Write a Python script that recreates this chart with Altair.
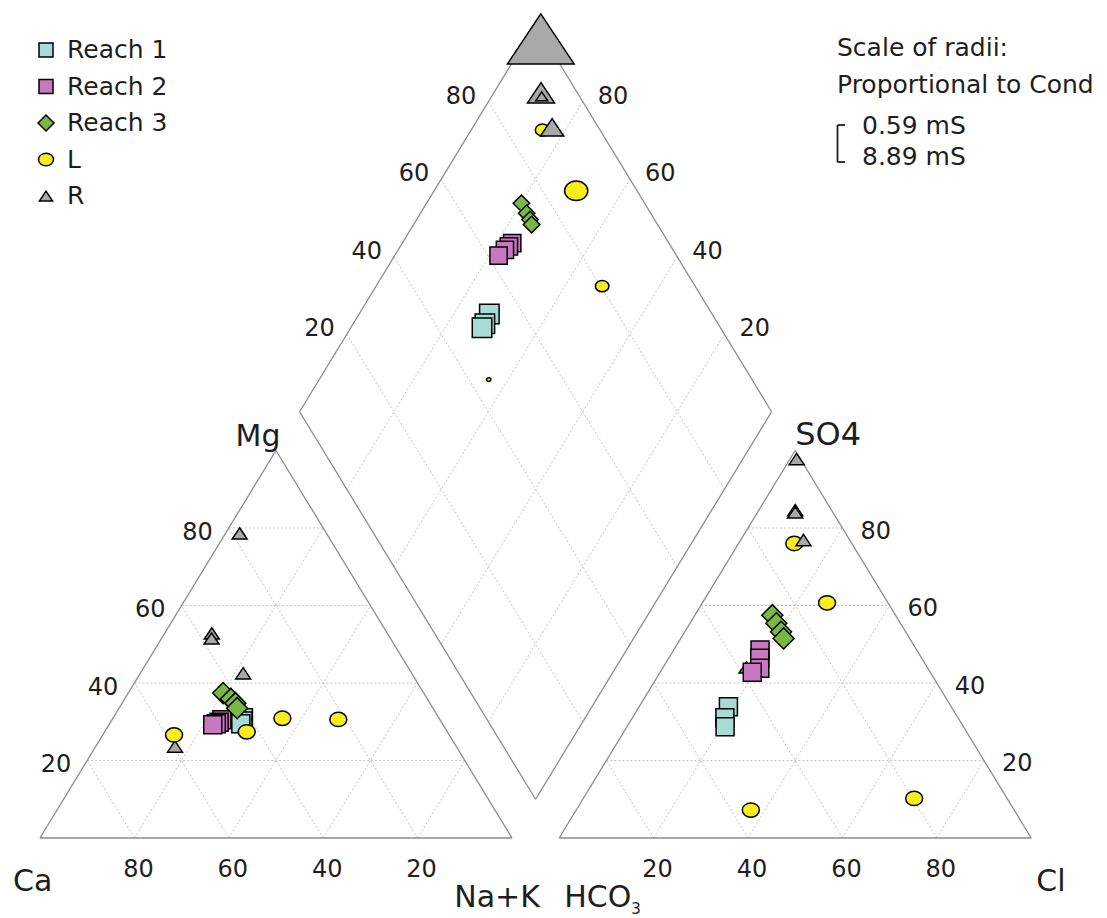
import math
import altair as alt
import pandas as pd

# ---------------- data (percent of meq/L) ----------------
groups = ["Reach 1", "Reach 2", "Reach 3", "L", "R"]

reach1_mg = [31.0, 30.2, 29.5]
reach1_nak = [27.6, 27.9, 27.8]
reach1_so4 = [33.9, 31.0, 28.7]
reach1_cl = [18.9, 19.6, 20.8]
reach1_cond = [2.6, 2.6, 2.6]

reach2_mg = [30.5, 29.9, 29.5, 29.2]
reach2_nak = [23.3, 23.0, 22.6, 22.0]
reach2_so4 = [48.5, 46.4, 43.8, 42.8]
reach2_cl = [18.3, 19.3, 20.6, 19.5]
reach2_cond = [2.3, 2.3, 2.3, 2.3]

reach3_mg = [37.4, 35.9, 34.8, 33.5]
reach3_nak = [20.1, 22.5, 24.0, 25.0]
reach3_so4 = [57.5, 55.4, 53.2, 51.5]
reach3_cl = [16.4, 18.3, 20.4, 21.8]
reach3_cond = [2.2, 2.2, 2.2, 2.2]

l_mg = [26.6, 27.4, 30.9, 30.6]
l_nak = [15.1, 30.1, 35.9, 47.9]
l_so4 = [76.0, 60.7, 7.2, 10.2]
l_cl = [11.8, 26.4, 37.0, 70.1]
l_cond = [1.9, 3.1, 0.59, 1.8]

r_mg = [78.6, 52.8, 23.6, 42.5, 51.5]
r_nak = [3.0, 10.0, 16.8, 21.8, 10.6]
r_so4 = [97.8, 84.6, 76.9, 44.0, 84.0]
r_cl = [1.4, 7.7, 13.3, 17.7, 8.0]
r_cond = [8.89, 3.6, 3.1, 1.5, 1.6]

ticks = [20, 40, 60, 80]
tick_labels = ["20", "40", "60", "80"]

fills = ["#a9dbd6", "#c878c0", "#78b843", "#fbec1e", "#a9a9a9"]
TRI_PATH = "M0,-0.75L1,0.75L-1,0.75Z"
ELL_PATH = "M-1,0A1,0.84 0 1,1 1,0A1,0.84 0 1,1 -1,0Z"
shapes = ["square", "square", "diamond", ELL_PATH, TRI_PATH]
tri_px = {"Reach 1": 18, "Reach 2": 18, "Reach 3": 21, "L": 17, "R": 15}
legend_px = [14, 14, 16, 15, 13]

FONT = "DejaVu Sans"
TXT = "#1e1e1e"
H = math.sqrt(3) / 2
GAP = 10

# ---------------- geometry ----------------
series = {
    "Reach 1": (reach1_mg, reach1_nak, reach1_so4, reach1_cl, reach1_cond),
    "Reach 2": (reach2_mg, reach2_nak, reach2_so4, reach2_cl, reach2_cond),
    "Reach 3": (reach3_mg, reach3_nak, reach3_so4, reach3_cl, reach3_cond),
    "L": (l_mg, l_nak, l_so4, l_cl, l_cond),
    "R": (r_mg, r_nak, r_so4, r_cl, r_cond),
}
z_cat = {"R": 0, "Reach 1": 1, "Reach 2": 2, "Reach 3": 3, "L": 4}
z_other = {"L": 0, "R": 1, "Reach 1": 2, "Reach 2": 3, "Reach 3": 4}

rows = []
for g, (mg, nak, so4, cl, cond) in series.items():
    for i in range(len(mg)):
        a = cl[i] + so4[i]
        # cation triangle
        rows.append(dict(group=g, x=nak[i] + mg[i] / 2, y=mg[i] * H,
                         size=tri_px[g] ** 2, z=z_cat[g]))
        # anion triangle
        rows.append(dict(group=g, x=100 + GAP + cl[i] + so4[i] / 2, y=so4[i] * H,
                         size=tri_px[g] ** 2, z=10 + z_other[g]))
        # diamond
        rows.append(dict(group=g, x=55 + nak[i] / 2 + a / 2,
                         y=H * (110 + a - nak[i]),
                         size=(7.5 * cond[i]) ** 2, z=20 + z_other[g]))
pts = pd.DataFrame(rows)

frame, grid = [], []
for x0 in (0, 100 + GAP):
    frame += [(x0, 0, x0 + 100, 0), (x0, 0, x0 + 50, 100 * H), (x0 + 100, 0, x0 + 50, 100 * H)]
    for p in ticks:
        grid.append((x0 + p / 2, p * H, x0 + 100 - p / 2, p * H))
        grid.append((x0 + 100 - p, 0, x0 + (100 - p) / 2, (100 - p) * H))
        grid.append((x0 + p, 0, x0 + p + (100 - p) / 2, (100 - p) * H))
bot, lef, top, rig = (105, 10 * H), (55, 110 * H), (105, 210 * H), (155, 110 * H)
frame += [(*bot, *lef), (*lef, *top), (*top, *rig), (*rig, *bot)]
for p in ticks:
    grid.append((55 + p / 2, H * (110 + p), 105 + p / 2, H * (10 + p)))
    grid.append((55 + p / 2, H * (110 - p), 105 + p / 2, H * (210 - p)))
frame_df = pd.DataFrame(frame, columns=["x", "y", "x2", "y2"])
grid_df = pd.DataFrame(grid, columns=["x", "y", "x2", "y2"])

# ---------------- scales ----------------
xs = alt.Scale(domain=[-40 / 4.72, (1107 - 40) / 4.72], nice=False, zero=False)
ys = alt.Scale(domain=[(838 - 918) / 4.4746, 838 / 4.4746], nice=False, zero=False)
fill_scale = alt.Scale(domain=groups, range=fills)
shape_scale = alt.Scale(domain=groups, range=shapes)


def X(f="x"):
    return alt.X(f"{f}:Q", scale=xs, axis=None)


def Y(f="y"):
    return alt.Y(f"{f}:Q", scale=ys, axis=None)


grid_layer = alt.Chart(grid_df).mark_rule(color="#c4c4c4", strokeWidth=1, strokeDash=[2, 2]).encode(
    x=X(), y=Y(), x2="x2:Q", y2="y2:Q")
frame_layer = alt.Chart(frame_df).mark_rule(color="#8c8c8c", strokeWidth=1.3).encode(
    x=X(), y=Y(), x2="x2:Q", y2="y2:Q")

point_layer = alt.Chart(pts).mark_point(filled=True, opacity=1, stroke="black", strokeWidth=1.5).encode(
    x=X(), y=Y(),
    fill=alt.Fill("group:N", scale=fill_scale, legend=None),
    shape=alt.Shape("group:N", scale=shape_scale, legend=None),
    size=alt.Size("size:Q", scale=None),
    order=alt.Order("z:Q"),
)

# ---------------- legend (top-left) ----------------
legend_df = pd.DataFrame({"group": groups, "row": list(range(len(groups))),
                          "lsize": [p ** 2 for p in legend_px]})
row_y = alt.Y("row:Q", scale=alt.Scale(domain=[0, 4], range=[50, 196], nice=False, zero=False), axis=None)
legend_sym = alt.Chart(legend_df).mark_point(filled=True, opacity=1, stroke="black", strokeWidth=1.5).encode(
    x=alt.value(46), y=row_y,
    fill=alt.Fill("group:N", scale=fill_scale, legend=None),
    shape=alt.Shape("group:N", scale=shape_scale, legend=None),
    size=alt.Size("lsize:Q", scale=None),
)
legend_txt = alt.Chart(legend_df).mark_text(align="left", baseline="middle", font=FONT, fontSize=25,
                                            color=TXT).encode(x=alt.value(67), y=row_y, text="group:N")


def text_layer(df, align, dx, dy, size=24):
    return alt.Chart(df).mark_text(align=align, baseline="middle", dx=dx, dy=dy, font=FONT,
                                   fontSize=size, color=TXT).encode(x=X(), y=Y(), text="t:N")


left_edge = pd.DataFrame({"x": [p / 2 for p in ticks], "y": [p * H for p in ticks], "t": tick_labels})
right_edge = pd.DataFrame({"x": [210 - p / 2 for p in ticks], "y": [p * H for p in ticks], "t": tick_labels})
base_ca = pd.DataFrame({"x": [100 - p for p in ticks], "y": [0] * 4, "t": tick_labels})
base_cl = pd.DataFrame({"x": [110 + p for p in ticks], "y": [0] * 4, "t": tick_labels})
dia_ul = pd.DataFrame({"x": [55 + p / 2 for p in ticks], "y": [H * (110 + p) for p in ticks], "t": tick_labels})
dia_ur = pd.DataFrame({"x": [155 - p / 2 for p in ticks], "y": [H * (110 + p) for p in ticks], "t": tick_labels})

tick_layers = [
    text_layer(left_edge, "right", -16, 5),
    text_layer(right_edge, "left", 18, 4),
    text_layer(base_ca, "center", 4, 32),
    text_layer(base_cl, "center", 4, 32),
    text_layer(dia_ul, "right", -12, -5),
    text_layer(dia_ur, "left", 15, -5),
]


def vlabel(t, x, y, align, dx, dy, size=30):
    return text_layer(pd.DataFrame({"x": [x], "y": [y], "t": [t]}), align, dx, dy, size)


vertex_layers = [
    vlabel("Mg", 50, 100 * H, "center", -18, -13),
    vlabel("SO4", 160, 100 * H, "left", 0, -15, 32),
    vlabel("Ca", 0, 0, "left", -27, 44),
    vlabel("Na+K", 100, 0, "center", -15, 60),
    vlabel("HCO", 110, 0, "left", 5, 60),
    vlabel("3", 110, 0, "left", 72, 71, 15),
    vlabel("Cl", 210, 0, "left", 5, 44),
]

one = pd.DataFrame({"a": [0]})


def ptext(t, px, py, size=25):
    return alt.Chart(one).mark_text(align="left", baseline="middle", font=FONT, fontSize=size,
                                    color=TXT).encode(x=alt.value(px), y=alt.value(py), text=alt.value(t))


def prule(px, py, px2, py2):
    return alt.Chart(one).mark_rule(color=TXT, strokeWidth=1.8).encode(
        x=alt.value(px), y=alt.value(py), x2=alt.value(px2), y2=alt.value(py2))


scale_layers = [
    ptext("Scale of radii:", 837, 48),
    ptext("Proportional to Cond", 837, 85),
    ptext("0.59 mS", 862, 126),
    ptext("8.89 mS", 862, 157),
    prule(837.5, 125, 837.5, 162),
    prule(837.5, 125, 845, 125),
    prule(837.5, 162, 845, 162),
]

chart = alt.layer(grid_layer, frame_layer, *tick_layers, *vertex_layers, *scale_layers,
                  point_layer, legend_sym, legend_txt).resolve_scale(y="independent").properties(
    width=1107, height=918, padding=0, autosize=alt.AutoSizeParams(type="none"),
    background="white",
).configure_view(stroke=None)

chart.save("out.html", embed_options={"renderer": "svg", "actions": False})
